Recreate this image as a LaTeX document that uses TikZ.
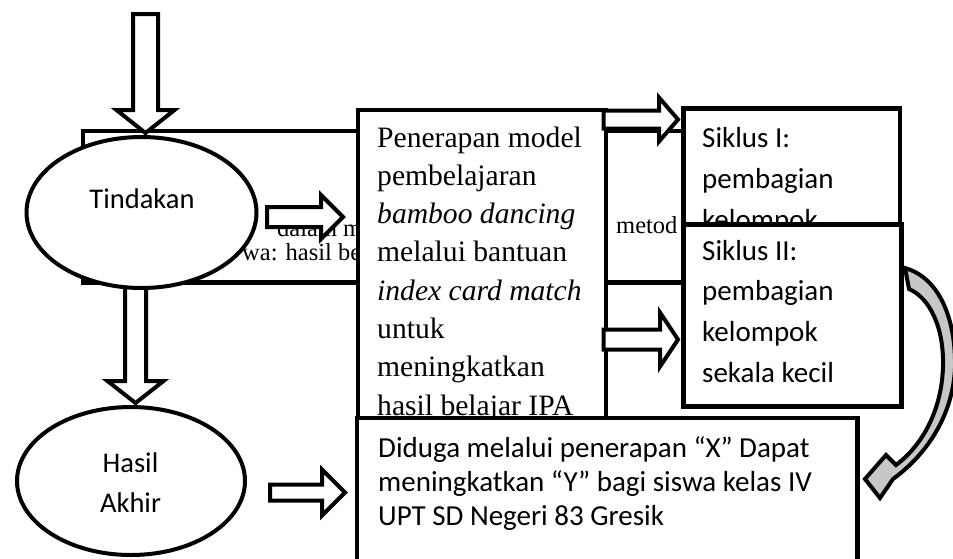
\documentclass[tikz,border=0pt]{standalone}
\usepackage{fontspec}
\setmainfont{Liberation Serif}
\newfontfamily\calfont{Carlito}
\usetikzlibrary{shapes.geometric}
\tikzset{
  blockarrow/.style={draw=black, fill=white, line width=4pt, line join=miter},
  boxstyle/.style={draw=black, fill=white, line width=4.5pt, inner sep=0pt, anchor=north west},
  ovalstyle/.style={ellipse, draw=black, fill=white, line width=4pt, inner sep=0pt},
  sertext/.style={anchor=base west, inner sep=0pt, font=\fontsize{29.6}{38}\selectfont},
  smalltext/.style={anchor=base west, inner sep=0pt, font=\fontsize{24.5}{26}\selectfont},
  caltext/.style={anchor=base west, inner sep=0pt, font=\calfont\fontsize{29}{34}\selectfont},
  ovaltext/.style={anchor=base, inner sep=0pt, font=\calfont\fontsize{28.5}{34}\selectfont},
  curvestyle/.style={draw=black, fill=black!22, line width=4pt, line join=miter}
}
\newcommand\rblock[6]{%
  \filldraw[blockarrow] (#1,#4-#5) -- (#2,#4-#5) -- (#2,#4-#6) -- (#3,#4) -- (#2,#4+#6) -- (#2,#4+#5) -- (#1,#4+#5) -- cycle;}
\newcommand\dblock[6]{%
  \filldraw[blockarrow] (#1-#5,#2) -- (#1-#5,#3) -- (#1-#6,#3) -- (#1,#4) -- (#1+#6,#3) -- (#1+#5,#3) -- (#1+#5,#2) -- cycle;}
\begin{document}
\begin{tikzpicture}[x=1pt,y=-1pt]
\useasboundingbox[fill=white] (0,0) rectangle (953,558);

% wide background rectangle with partly hidden text
\node[boxstyle, minimum width=769.5pt, minimum height=151.5pt] (wide) at (80.5,128.5) {};
\node[smalltext] (w1) at (277,236) {dalam m};
\node[smalltext] (w2) at (242,260) {wa: hasil be};
\node[smalltext] (w3) at (616,233) {metod};

% down arrow Tindakan -> Hasil Akhir (top end hidden by ellipse)
\dblock{135.5}{270}{381}{403}{10.5}{28}

% Tindakan
\node[ovalstyle, minimum width=230pt, minimum height=151pt] (tind) at (141.5,212.5) {};
\node[ovaltext] (tindt) at (142,208) {Tindakan};

% top arrow into Tindakan
\dblock{145.5}{14}{110}{133}{12.5}{29}

% arrow Tindakan -> central box
\rblock{267}{321}{343}{217}{10}{22}

% central box
\node[boxstyle, minimum width=248pt, minimum height=350pt] (cbox) at (355.5,107.5) {};
\foreach \t [count=\i from 0] in {Penerapan model, pembelajaran, \textit{bamboo dancing}, melalui bantuan, \textit{index card match}, untuk, meningkatkan, hasil belajar IPA}
  \node[sertext] (c\i) at (377,147+38.3*\i) {\t};

% arrows to cycles
\rblock{603.5}{659}{678}{119.5}{9}{22}
\rblock{603.5}{660}{678}{339.5}{10}{27}

% Siklus I
\node[boxstyle, minimum width=216.5pt, minimum height=140pt] (s1) at (681,106) {};
\foreach \t [count=\i from 0] in {Siklus I:, pembagian, kelompok}
  \node[caltext] (s1\i) at (702,147+41*\i) {\t};

% Siklus II
\node[boxstyle, minimum width=218pt, minimum height=182pt] (s2) at (681,222) {};
\foreach \t [count=\i from 0] in {Siklus II:, pembagian, kelompok, sekala kecil}
  \node[caltext] (s2\i) at (702,260+40.7*\i) {\t};

% Hasil Akhir
\node[ovalstyle, minimum width=228pt, minimum height=148pt] (hasil) at (131,481) {};
\node[ovaltext] (hasil1) at (130.5,472) {Hasil};
\node[ovaltext] (hasil2) at (130.5,512) {Akhir};

% arrow Hasil Akhir -> bottom box
\rblock{270}{322}{345}{492.5}{8}{23}

% bottom box
\node[boxstyle, minimum width=500.5pt, minimum height=200pt] (bbox) at (354.5,415.5) {};
\node[caltext] (b0) at (378,457) {Diduga melalui penerapan “X” Dapat};
\node[caltext] (b1) at (378,491) {meningkatkan “Y” bagi siswa kelas IV};
\node[caltext] (b2) at (378,525) {UPT SD Negeri 83 Gresik};

% curved arrow from Siklus II back to the bottom box
\filldraw[curvestyle] (905,268) .. controls (940,278) and (956,320) .. (955,368)
  .. controls (953,412) and (930,452) .. (893,479)
  -- (880,498) -- (865,479) -- (886,455) -- (896,465)
  .. controls (924,444) and (942,408) .. (943,366)
  .. controls (944,328) and (930,298) .. (909,289) -- cycle;
\end{tikzpicture}
\end{document}
